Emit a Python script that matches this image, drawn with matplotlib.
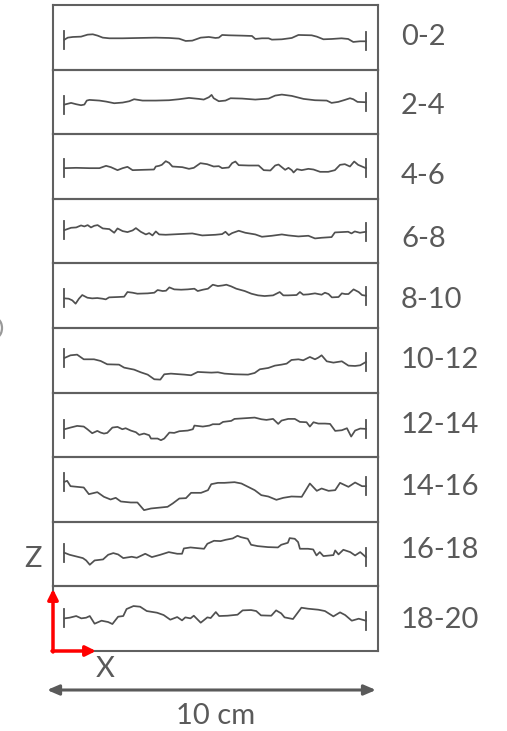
import matplotlib
matplotlib.use("Agg")
import matplotlib.pyplot as plt
from matplotlib.patches import Arc
import numpy as np

plt.rcParams['font.family'] = ['Lato', 'DejaVu Sans']

depth_labels = ["0-2", "2-4", "4-6", "6-8", "8-10", "10-12", "12-14", "14-16", "16-18", "18-20"]

# profile positions along the sample (mm) and relative heights (arbitrary units)
x_0_2 = [0, 1.1, 2.8, 5.5, 7.7, 9.4, 11.0, 12.7, 14.9, 19.3, 24.8, 30.3, 34.7, 38.0, 40.2, 42.4, 45.2, 47.9, 50.1, 51.2,
         52.3, 54.5, 58.9, 62.2, 63.3, 65.5, 67.7, 68.8, 72.1, 75.4, 77.6, 82.0, 83.7, 85.9, 88.7, 91.9, 94.1, 95.8, 98.0, 100]
z_0_2 = [-7, -1, 1, 2, 8, 9, 5, -1, -3, -3, -2, -1, -2, -4, -11, -10, -1, 1, -2, -1,
         7, 6, 5, 4, -5, -3, -3, -7, -6, -2, 7, 6, 2, -6, -5, -3, -5, -14, -12, -12]

x_2_4 = [0, 2.2, 3.9, 5.5, 6.6, 7.4, 8.3, 11.6, 13.8, 16.5, 19.3, 21.5, 23.1, 25.9, 30.3, 34.7, 38.0, 41.3, 44.6, 46.2, 47.9,
         48.8, 49.5, 51.2, 53.4, 55.1, 58.9, 63.3, 67.7, 69.9, 72.1, 75.4, 79.3, 83.1, 87.0, 88.6, 90.8, 93.0, 94.7, 95.8, 97.2, 100]
z_2_4 = [-8, -3, -7, -10, -8, 4, 6, 4, 1, -4, -2, 2, 8, 4, 4, 5, 8, 12, 9, 7, 14,
         21, 11, 2, 4, 11, 10, 7, 10, 19, 22, 18, 9, 5, 4, -3, 0, 6, 11, 8, 0, -1]

x_4_6 = [0, 3.9, 8.3, 11.6, 13.8, 15.4, 17.6, 19.3, 20.9, 22.6, 25.9, 29.7, 30.3, 31.4, 32.3, 33.6, 34.7, 35.8, 39.1, 41.3,
         42.9, 45.1, 47.3, 49.5, 51.2, 52.3, 54.5, 55.6, 56.7, 57.8, 61.1, 64.4, 66.1, 68.3, 69.9, 71.0, 72.1, 73.2, 74.3, 75.4,
         76.0, 77.1, 78.7, 80.9, 82.6, 84.8, 87.5, 89.7, 91.4, 93.0, 94.7, 96.1, 97.4, 100]
z_4_6 = [-5, -4, -5, -5, 2, -2, -11, -5, -1, -11, -10, -9, 0, 2, 5, 16, 11, 0, -2, -7,
         -4, 10, 7, 0, 1, -5, -3, 10, 15, 4, 3, 3, -11, -12, 3, 6, -2, -10, -4, -11,
         -18, -8, -11, -7, -9, -16, -16, -11, 5, 7, 0, 15, 5, -5]

x_6_8 = [0, 2.2, 3.9, 5.5, 6.6, 7.7, 8.8, 9.9, 11.0, 12.7, 14.9, 16.5, 17.6, 19.3, 20.9, 22.6, 23.7, 25.3, 27.0, 28.1,
         29.2, 30.3, 31.4, 33.6, 38.0, 42.4, 45.7, 50.1, 52.3, 53.4, 54.5, 55.6, 57.8, 60.0, 63.3, 65.5, 68.8, 72.1, 74.3,
         77.6, 80.9, 83.1, 85.3, 88.6, 89.7, 91.9, 94.1, 95.2, 96.3, 98.0, 100]
z_6_8 = [3, 10, 11, 17, 14, 18, 11, 16, 18, 8, 6, -5, 8, 0, -3, 2, 9, -2, -10, -6,
         -13, -1, -10, -11, -9, -7, -13, -11, -9, -2, -12, -6, 1, -5, -10, -17, -14, -10, -13,
         -16, -14, -22, -20, -18, -4, -3, -2, -7, -1, -5, -2]

x_8_10 = [0, 1.4, 2.6, 3.7, 4.8, 5.9, 7.6, 9.2, 10.9, 12.6, 13.7, 14.8, 17.6, 19.8, 20.9, 22.6, 24.2, 27.6, 29.8, 30.9,
          32.6, 33.7, 34.8, 36.4, 38.7, 40.9, 43.1, 44.2, 45.9, 47.6, 49.2, 50.9, 52.6, 53.7, 55.3, 57.0, 59.8, 62.0, 64.2,
          66.4, 69.2, 71.4, 72.6, 74.2, 77.0, 78.1, 79.2, 80.9, 83.1, 85.3, 86.4, 87.6, 88.7, 90.9, 92.0, 93.1, 94.2, 95.9,
          97.6, 98.7, 100]
z_8_10 = [-8, -9, -14, -24, -9, 2, -6, -8, -7, -9, -11, -5, -4, -3, 11, 9, 6, 7, 9, 17,
          14, 15, 25, 19, 18, 19, 21, 14, 18, 21, 33, 29, 31, 33, 28, 21, 14, 6, 1,
          -1, 1, 11, 1, 1, 2, 11, 3, 4, 7, 3, 9, 5, -5, -4, 7, 5, 5, 19,
          11, 2, 0]

x_10_12 = [0, 2.0, 4.2, 6.4, 9.8, 12.0, 14.2, 18.1, 19.8, 23.1, 25.3, 27.6, 29.8, 31.8, 33.1, 35.3, 39.8, 42.0, 44.2, 48.7,
           50.9, 53.1, 56.4, 60.9, 63.1, 64.8, 67.6, 69.8, 72.0, 73.7, 75.3, 77.6, 79.2, 81.4, 83.1, 84.2, 85.3, 87.0, 89.2,
           92.0, 94.2, 96.4, 98.1, 100]
z_10_12 = [7, 15, 17, 3, 3, -2, -12, -13, -22, -28, -36, -43, -57, -58, -42, -40, -43, -45, -35, -37,
           -36, -40, -42, -43, -38, -27, -23, -16, -13, -10, 1, 3, 0, 10, 3, 8, 15, -3, -7,
           -3, -16, -17, -15, -5]

x_12_14 = [0, 2.0, 4.2, 6.4, 7.6, 9.2, 10.9, 12.0, 13.1, 14.2, 15.9, 17.6, 19.2, 20.3, 22.0, 23.7, 24.8, 26.4, 28.1, 28.7,
           30.9, 32.0, 33.1, 34.8, 36.4, 38.1, 40.9, 42.6, 43.1, 45.9, 48.1, 49.2, 51.4, 52.6, 55.3, 56.4, 59.8, 63.1, 65.3,
           67.0, 69.2, 70.9, 72.0, 74.2, 76.4, 78.1, 80.3, 81.4, 82.6, 84.2, 86.4, 88.1, 89.8, 92.0, 93.7, 95.1, 96.4, 98.1, 100]
z_12_14 = [-13, -8, -3, -5, -13, -25, -18, -23, -26, -24, -8, -6, -13, -10, -17, -22, -30, -26, -31, -41,
           -41, -46, -41, -23, -24, -19, -17, -13, -2, -5, -2, 2, 2, 9, 12, 18, 20, 22, 17,
           15, 18, 3, 13, 18, 18, 9, 8, -5, 8, 4, 4, 3, -18, -16, -10, -35, -17, -11, -12]

x_14_16 = [0, 0.9, 2.0, 4.2, 6.4, 8.1, 10.9, 13.1, 15.3, 17.0, 18.7, 22.0, 24.2, 26.4, 28.7, 32.0, 34.2, 35.9, 38.1, 40.3,
           42.0, 45.3, 47.6, 48.7, 50.9, 53.1, 56.4, 58.7, 60.9, 63.1, 65.3, 67.6, 70.3, 72.6, 75.3, 78.7, 81.4, 83.7, 85.3,
           87.6, 89.8, 91.4, 94.2, 96.4, 98.7, 100]
z_14_16 = [23, 26, 10, 8, 6, -14, -8, -22, -30, -25, -36, -39, -39, -62, -57, -54, -52, -42, -27, -26,
           -10, -10, -2, 16, 20, 20, 22, 18, 8, -2, -17, -21, -31, -25, -21, -22, 18, -4, 3,
           -4, -2, 20, 8, 21, 10, 10]

x_16_18 = [0, 1.7, 3.9, 6.1, 7.2, 8.4, 10.0, 12.8, 14.5, 16.2, 17.8, 19.5, 22.3, 24.0, 26.8, 29.0, 31.8, 34.6, 37.4, 39.0,
           39.6, 41.8, 44.0, 46.3, 47.4, 49.6, 51.8, 53.5, 55.8, 57.4, 58.5, 60.8, 61.9, 64.1, 67.5, 70.8, 71.9, 74.1, 74.7,
           76.4, 77.5, 78.1, 80.8, 82.5, 83.6, 84.7, 85.9, 89.2, 89.8, 90.9, 92.5, 94.8, 96.4, 98.1, 100]
z_16_18 = [4, -2, -7, -12, -19, -32, -19, -16, -2, 3, -1, -12, -8, -11, 1, -9, -2, 6, 1, 1,
           17, 20, 18, 16, 31, 40, 39, 43, 47, 55, 51, 46, 28, 24, 21, 20, 28, 34, 48,
           46, 36, 16, 16, 14, -4, 6, -6, -3, 11, -1, 13, 6, -4, 6, -9]

x_18_20 = [0, 1.7, 3.9, 5.6, 7.2, 8.4, 10.0, 12.3, 14.5, 15.9, 17.8, 19.5, 20.6, 22.9, 25.1, 27.3, 30.7, 32.9, 35.1, 37.4,
           39.0, 40.1, 41.8, 42.9, 45.2, 47.4, 48.5, 50.2, 51.3, 54.1, 57.4, 59.1, 61.9, 63.6, 65.2, 68.6, 70.2, 71.9, 73.0,
           75.8, 78.6, 80.8, 84.2, 86.4, 89.2, 91.4, 93.1, 95.3, 97.6, 100]
z_18_20 = [1, 3, 8, 1, 3, 8, -15, -6, -10, -16, 6, 8, 29, 38, 36, 23, 18, 11, -3, 5,
           -5, 4, 1, 9, -12, 4, 2, 20, 8, 9, 12, 25, 26, 23, 10, 9, 25, 16, 4,
           -1, 33, 30, 27, 23, 7, 19, 11, -6, 0, -6]

profiles_x = [x_0_2, x_2_4, x_4_6, x_6_8, x_8_10, x_10_12, x_12_14, x_14_16, x_16_18, x_18_20]
profiles_z = [z_0_2, z_2_4, z_4_6, z_6_8, z_8_10, z_10_12, z_12_14, z_14_16, z_16_18, z_18_20]

W, H = 507, 731
fig = plt.figure(figsize=(W / 100, H / 100), dpi=100)

grey = '#5a5a5a'
line_grey = '#505050'
left_px, right_px = 53, 378
top_px, bottom_px = 5, 651
n = len(depth_labels)
ph = (bottom_px - top_px) / n

for i in range(n):
    t = top_px + i * ph
    ax = fig.add_axes([left_px / W, 1 - (t + ph) / H, (right_px - left_px) / W, ph / H])
    xs = np.array(profiles_x[i])
    zs = np.array(profiles_z[i])
    ax.plot(xs, zs, color=line_grey, lw=1.25, solid_joinstyle='round')
    bh = 27
    ax.plot([xs[0], xs[0]], [zs[0] - bh, zs[0] + bh], color=line_grey, lw=1.3)
    ax.plot([xs[-1], xs[-1]], [zs[-1] - bh, zs[-1] + bh], color=line_grey, lw=1.3)
    ax.set_xlim(-3.8, 104.0)
    ax.set_ylim(-97, 97)
    ax.set_xticks([])
    ax.set_yticks([])
    for s in ax.spines.values():
        s.set_color('#606060')
        s.set_linewidth(1.5)
    ax.set_facecolor('none')

# overlay in pixel coordinates for annotations
ov = fig.add_axes([0, 0, 1, 1])
ov.set_xlim(0, W)
ov.set_ylim(H, 0)
ov.axis('off')
ov.set_facecolor('none')

label_y = [37, 106, 176, 239, 300, 360, 425, 487, 550, 620]
for lab, yc in zip(depth_labels, label_y):
    ov.text(401, yc, lab, fontsize=21, color=grey, ha='left', va='center')

# red coordinate arrows
ov.annotate('', xy=(53, 589), xytext=(53, 652),
            arrowprops=dict(arrowstyle='-|>,head_length=0.6,head_width=0.3', color='#ff0000', lw=2.5,
                            shrinkA=0, shrinkB=0))
ov.annotate('', xy=(96, 651), xytext=(52, 651),
            arrowprops=dict(arrowstyle='-|>,head_length=0.6,head_width=0.3', color='#ff0000', lw=2.5,
                            shrinkA=0, shrinkB=0))
ov.text(33, 559, 'Z', fontsize=21, color=grey, ha='center', va='center')
ov.text(105, 669, 'X', fontsize=21, color=grey, ha='center', va='center')

# scale arrow
ov.annotate('', xy=(47, 690), xytext=(376, 690),
            arrowprops=dict(arrowstyle='<|-|>,head_length=0.7,head_width=0.3', color=grey, lw=2.2,
                            shrinkA=0, shrinkB=0))
ov.text(216, 716, '10 cm', fontsize=21, color=grey, ha='center', va='center')

# partially visible glyph at the left edge (drawn as an arc)
ov.add_patch(Arc((-5, 328), 14, 20, theta1=-70, theta2=70, color='#999999', lw=1.6))

fig.savefig('out.png', dpi=100)
